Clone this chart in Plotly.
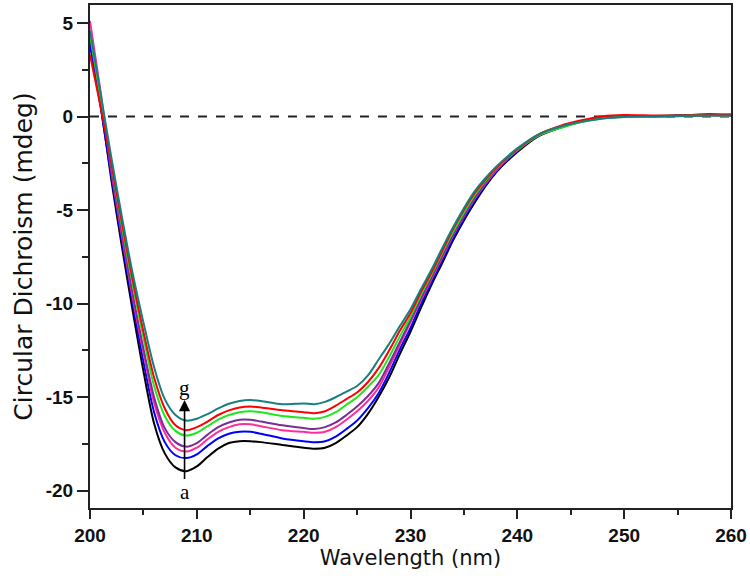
import plotly.graph_objects as go

wavelength = [200, 201, 202, 203, 204, 205, 206, 207, 208, 209, 210, 211, 212, 213, 214, 215, 216,
              218, 220, 221, 222, 223, 224, 225, 226, 227, 228, 229, 230, 231, 232, 233, 234,
              236, 238, 240, 242, 244, 246, 248, 250, 253, 256, 258, 260]

cd_a = [4.0, 0.6, -3.4, -7.0, -10.4, -13.6, -16.4, -18.0, -18.75, -18.95, -18.7, -18.2, -17.75, -17.45, -17.35, -17.35, -17.4,
        -17.55, -17.7, -17.75, -17.7, -17.45, -17.05, -16.6, -15.9, -15.0, -13.95, -12.7, -11.5, -10.2, -8.95, -7.8, -6.6,
        -4.6, -3.0, -1.9, -1.05, -0.6, -0.25, -0.05, 0.02, 0.03, 0.08, 0.12, 0.08]
cd_b = [3.8, 0.5, -3.2, -6.7, -10.0, -13.1, -15.8, -17.4, -18.1, -18.25, -18.05, -17.6, -17.2, -16.95, -16.85, -16.85, -16.95,
        -17.2, -17.35, -17.4, -17.35, -17.1, -16.7, -16.25, -15.6, -14.8, -13.7, -12.45, -11.3, -10.0, -8.8, -7.65, -6.5,
        -4.5, -2.95, -1.85, -1.0, -0.6, -0.25, -0.05, 0.0, 0.02, 0.05, 0.08, 0.06]
cd_c = [5.1, 1.3, -2.9, -6.4, -9.7, -12.6, -15.3, -16.9, -17.7, -17.9, -17.7, -17.25, -16.85, -16.6, -16.45, -16.45, -16.55,
        -16.76, -16.85, -16.9, -16.85, -16.6, -16.2, -15.75, -15.2, -14.5, -13.4, -12.2, -11.0, -9.8, -8.65, -7.5, -6.35,
        -4.4, -2.9, -1.8, -1.0, -0.58, -0.25, -0.08, -0.02, 0.0, 0.03, 0.05, 0.03]
cd_d = [4.3, 0.9, -2.8, -6.25, -9.5, -12.4, -15.0, -16.65, -17.4, -17.64, -17.45, -17.0, -16.6, -16.35, -16.2, -16.2, -16.3,
        -16.5, -16.65, -16.7, -16.6, -16.35, -15.95, -15.5, -14.95, -14.26, -13.2, -12.05, -10.9, -9.7, -8.55, -7.4, -6.3,
        -4.35, -2.85, -1.8, -1.0, -0.58, -0.25, -0.06, 0.0, 0.02, 0.05, 0.08, 0.06]
cd_e = [4.4, 1.0, -2.5, -5.9, -9.0, -11.8, -14.4, -16.0, -16.8, -17.05, -16.9, -16.55, -16.2, -15.95, -15.8, -15.75, -15.8,
        -16.0, -16.1, -16.15, -16.05, -15.8, -15.4, -15.0, -14.45, -13.83, -12.85, -11.75, -10.7, -9.5, -8.4, -7.25, -6.15,
        -4.2, -2.8, -1.78, -1.0, -0.62, -0.3, -0.1, -0.02, 0.0, 0.05, 0.07, 0.05]
cd_f = [3.3, 0.5, -2.5, -5.7, -8.75, -11.5, -13.95, -15.6, -16.5, -16.76, -16.6, -16.3, -15.95, -15.7, -15.55, -15.5, -15.55,
        -15.7, -15.8, -15.85, -15.75, -15.45, -15.1, -14.75, -14.2, -13.46, -12.5, -11.45, -10.5, -9.35, -8.3, -7.15, -6.0,
        -4.1, -2.75, -1.75, -0.95, -0.5, -0.2, 0.02, 0.08, 0.05, 0.05, 0.08, 0.12]
cd_g = [4.6, 1.2, -2.2, -5.4, -8.4, -11.0, -13.4, -15.1, -15.95, -16.25, -16.15, -15.9, -15.6, -15.35, -15.2, -15.15, -15.2,
        -15.37, -15.33, -15.37, -15.25, -15.0, -14.7, -14.4, -13.85, -13.0, -12.15, -11.2, -10.3, -9.2, -8.15, -7.0, -5.9,
        -4.0, -2.7, -1.7, -0.95, -0.55, -0.28, -0.1, -0.02, 0.0, 0.03, 0.05, 0.05]

series_names = ["a", "b", "c", "d", "e", "f", "g"]
series_values = [cd_a, cd_b, cd_c, cd_d, cd_e, cd_f, cd_g]
series_colors = ["#000000", "#0000FF", "#FF2C9C", "#7B2D96", "#1FE61F", "#FF0000", "#17807F"]

x_ticks = [200, 210, 220, 230, 240, 250, 260]
y_ticks = [-20, -15, -10, -5, 0, 5]

fig = go.Figure()

for name, vals, col in zip(series_names, series_values, series_colors):
    fig.add_trace(go.Scatter(x=wavelength, y=vals, mode="lines", name=name,
                             line=dict(color=col, width=2, shape="spline", smoothing=0.8),
                             showlegend=False, hoverinfo="skip"))

# zero reference line
fig.add_shape(type="line", xref="x", yref="y", x0=200, x1=260, y0=0, y1=0,
              line=dict(color="#222222", width=2, dash="dash"), layer="below")

# arrow a -> g
fig.add_annotation(x=208.85, y=-15.15, ax=208.85, ay=-19.45, xref="x", yref="y", axref="x", ayref="y",
                   showarrow=True, arrowhead=2, arrowsize=1.4, arrowwidth=1.6, arrowcolor="#000000", text="")
fig.add_annotation(x=208.85, y=-20.05, xref="x", yref="y", text="a", showarrow=False,
                   font=dict(family="Liberation Serif", size=21, color="#000000"))
fig.add_annotation(x=208.85, y=-14.5, xref="x", yref="y", text="g", showarrow=False,
                   font=dict(family="Liberation Serif", size=21, color="#000000"))

axis_common = dict(showline=True, linecolor="#222222", linewidth=2, mirror=True, showgrid=False,
                   zeroline=False, ticks="outside", tickcolor="#222222", tickwidth=2,
                   tickfont=dict(family="Liberation Sans", size=19, color="#111111", weight="bold"))

fig.update_layout(
    width=750, height=581,
    margin=dict(l=90, r=16, t=3, b=73),
    paper_bgcolor="white", plot_bgcolor="white",
    xaxis=dict(range=[200, 260], tickvals=x_ticks, ticktext=[str(v) for v in x_ticks], ticklen=9,
               minor=dict(dtick=5, ticks="outside", ticklen=5, tickwidth=2, tickcolor="#222222"),
               title=dict(text="Wavelength (nm)", standoff=3,
                          font=dict(family="DejaVu Sans", size=21, color="#111111")),
               **axis_common),
    yaxis=dict(range=[-20.92, 5.96], tickvals=y_ticks, ticktext=[str(v) for v in y_ticks], ticklen=11,
               minor=dict(dtick=2.5, ticks="outside", ticklen=6, tickwidth=2, tickcolor="#222222"),
               title=dict(text="Circular Dichroism (mdeg)", standoff=6,
                          font=dict(family="DejaVu Sans", size=25, color="#111111")),
               **axis_common),
)

fig.write_html("out.html", config={"displayModeBar": False},
               post_script="document.body.style.margin='0px';")
